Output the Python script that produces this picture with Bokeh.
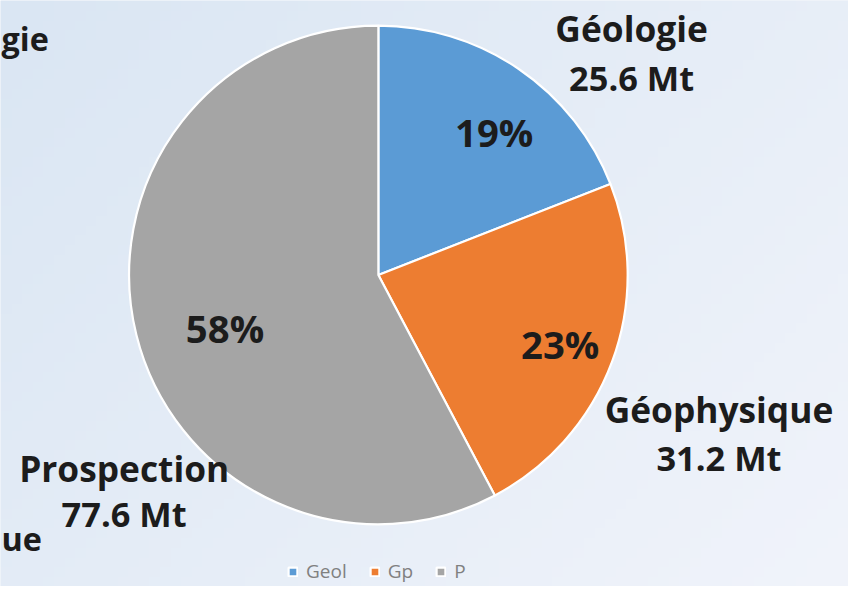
import numpy as np
from bokeh.plotting import figure
from bokeh.models import ColumnDataSource, Range1d, Legend, LegendItem
from bokeh.core.properties import value
from bokeh.embed import file_html
from bokeh.resources import INLINE

# data
categories = ["Geol", "Gp", "P"]
names = ["Géologie", "Géophysique", "Prospection"]
amounts = [25.6, 31.2, 77.6]  # Mt
colors = ["#5b9bd5", "#ed7d31", "#a5a5a5"]

# figure fits the window (848x586 px); data space uses 864x602 layout units
W, H = 848, 586
RW, RH = 864, 602
FONT = value("Open Sans")
S = W / RW
BL = 13  # baseline correction for svg text


def Y(py):
    return RH - py + BL


def fs(px):
    return f"{px * S:.1f}px"


p = figure(width=W, height=H, output_backend="svg", toolbar_location=None,
           x_range=Range1d(0, RW), y_range=Range1d(0, RH), min_border=0)
p.axis.visible = False
p.grid.visible = False
p.outline_line_color = None
p.border_fill_color = "#e6edf7"
p.background_fill_color = "#e6edf7"

# background gradient (styling only)
ny, nx = 60, 80
img = np.zeros((ny, nx), dtype=np.uint32)
view = img.view(dtype=np.uint8).reshape((ny, nx, 4))
for j in range(ny):
    for i in range(nx):
        t = 0.6 * i / nx + 0.4 * (1 - j / ny)
        r = int(218 + (241 - 218) * t)
        g = int(230 + (244 - 230) * t)
        b = int(243 + (251 - 243) * t)
        view[j, i] = [r, g, b, 255]
p.image_rgba(image=[img], x=0, y=0, dw=RW, dh=RH)

# pie
total = sum(amounts)
fr = np.array(amounts) / total
cum = np.concatenate([[0], np.cumsum(fr)])
start = np.pi / 2 - cum[:-1] * 2 * np.pi
end = np.pi / 2 - cum[1:] * 2 * np.pi
cx, cy, R = 385, RH - 282, 254
src = ColumnDataSource(dict(start=start, end=end, color=colors, cat=categories))
w = p.wedge(x=cx, y=cy, radius=R, start_angle="start", end_angle="end",
            direction="clock", fill_color="color", line_color="white",
            line_width=2.2, source=src)

# percentage labels placed along each slice's mid-angle
pct = [f"{round(f * 100)}%" for f in fr]
mid = (start + end) / 2
pct_r = [0.745, 0.78, 0.65]
pct_da = np.radians([-4.3, -0.4, 4.9])
lx = [cx + R * rr * np.cos(m + da) for rr, m, da in zip(pct_r, mid, pct_da)]
ly = [cy + R * rr * np.sin(m + da) - 14 + BL for rr, m, da in zip(pct_r, mid, pct_da)]
p.text(x=lx, y=ly, text=pct, text_font=FONT, text_font_style="bold",
       text_font_size=fs(39), text_color="#1c1c1c", text_align="center",
       text_baseline="alphabetic")

# outer labels: (x centre, name baseline, value baseline) in layout units
lab_pos = [(643, 41, 92), (732, 433, 482), (126, 493, 540)]
vals = [f"{a} Mt" for a in amounts]
p.text(x=[a for a, b, c in lab_pos], y=[Y(b) for a, b, c in lab_pos], text=names,
       text_font=FONT, text_font_style="bold", text_font_size=fs(36),
       text_color="#1c1c1c", text_align="center", text_baseline="alphabetic")
p.text(x=[a for a, b, c in lab_pos], y=[Y(c) for a, b, c in lab_pos], text=vals,
       text_font=FONT, text_font_style="bold", text_font_size=fs(35),
       text_color="#1c1c1c", text_align="center", text_baseline="alphabetic")

# fragments of a neighbouring chart's labels, visible at the left edge
p.text(x=[1, 1], y=[Y(52), Y(565)], text=["gie", "ue"],
       text_font=FONT, text_font_style="bold", text_font_size=fs(33),
       text_color="#1c1c1c", text_align="left", text_baseline="alphabetic")

legend = Legend(items=[LegendItem(label=c, renderers=[w], index=i)
                       for i, c in enumerate(categories)],
                orientation="horizontal", location=(287, 2),
                background_fill_alpha=0, border_line_color=None,
                label_text_font="Open Sans", label_text_font_size="19px",
                label_text_color="#808080", glyph_width=11, glyph_height=11,
                spacing=22, label_standoff=8, padding=0, margin=0,
                label_height=22)
p.add_layout(legend)

open("out.html", "w").write(file_html(p, INLINE))
